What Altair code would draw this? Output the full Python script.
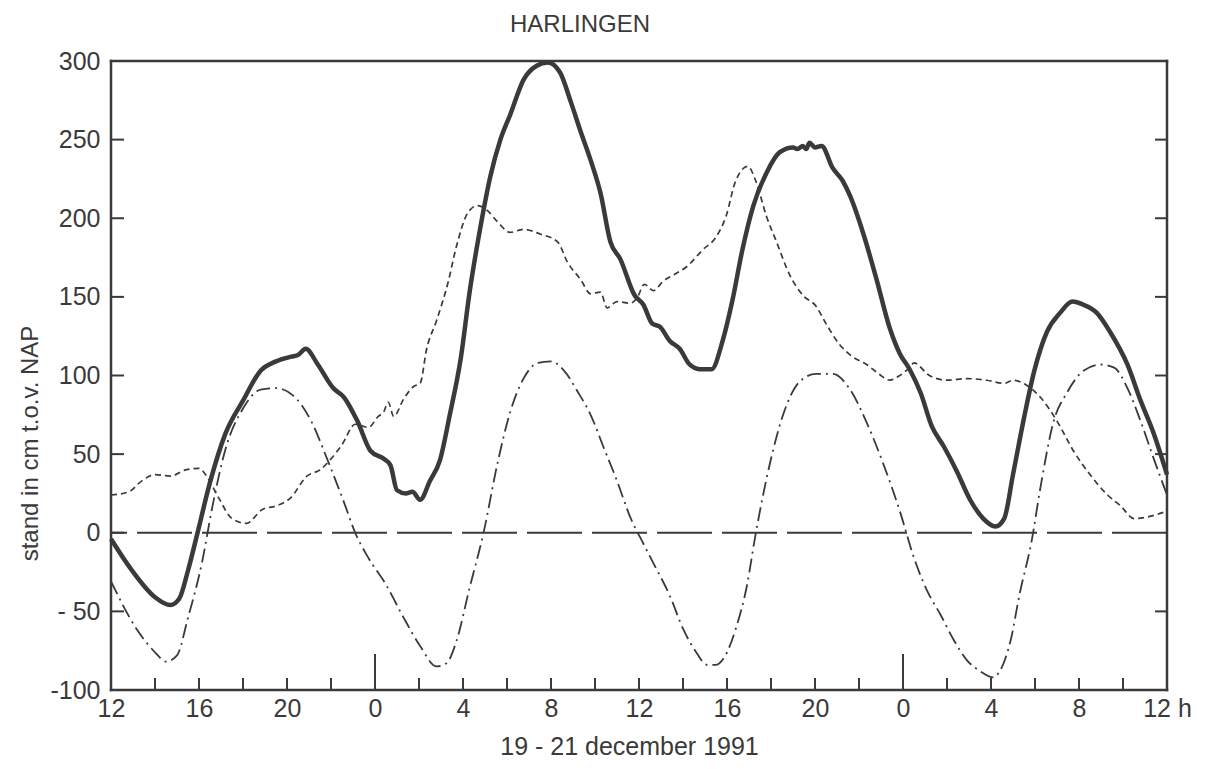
import altair as alt
import pandas as pd

# Time axis: hours since 12:00 on 19 December 1991 (0 .. 48)
# Observed water level (cm relative to NAP)
obs_t = [0, 0.9, 2, 2.7, 3.1, 3.5, 3.9, 4.5, 5.2, 6, 6.8, 7.5, 8.2, 8.5, 8.85, 9.4,
         10.1, 10.6, 11.2, 11.8, 12.4, 12.7, 13.0, 13.4, 13.7, 14.05, 14.5, 14.95,
         15.4, 15.9, 16.3, 16.8, 17.25, 17.7, 18.15, 18.75, 19.35, 19.85, 20.4, 20.9,
         21.35, 21.8, 22.25, 22.7, 23.15, 23.8, 24.2, 24.6, 24.95, 25.4, 25.85, 26.3,
         26.75, 27.3, 27.8, 28.25, 28.7, 29.2, 29.8, 30.4, 31.0, 31.2, 31.45, 31.6,
         31.75, 32.0, 32.3, 32.8, 33.25, 33.6, 34.2, 34.8, 35.4, 35.85, 36.3, 36.8,
         37.3, 37.85, 38.45, 39.05, 39.65, 40.2, 40.6, 41.0, 41.5, 41.95, 42.55,
         43.15, 43.7, 44.2, 44.8, 45.4, 46.2, 46.8, 47.4, 48]
obs_v = [-4, -23, -41, -46, -42, -24, -2, 32, 63, 84, 103, 109, 112, 113, 117, 107,
         92, 86, 71, 52, 47, 43, 27, 25, 26, 21, 33, 46,
         75, 111, 153, 195, 227, 250, 266, 288, 297, 299, 293, 274,
         255, 237, 216, 185, 174, 151, 145, 133, 131, 122, 117, 107,
         104, 104, 122, 148, 180, 208, 229, 242, 245, 244, 246, 244,
         248, 245, 246, 232, 224, 214, 190, 161, 130, 114, 104, 89,
         68, 55, 39, 21, 9, 4, 9, 37, 73, 102, 128,
         140, 147, 145, 140, 128, 107, 84, 63, 37]

# Astronomical tide
ast_t = [0, 1.2, 2, 2.5, 3, 3.5, 4.15, 4.6, 5.2, 6, 6.8, 7.5, 8.3, 9.1, 9.85, 10.6,
         11.1, 11.7, 12.5, 13.3, 14.05, 14.8, 15.25, 15.7, 16.3, 16.95, 17.55, 18.15,
         18.75, 19.4, 20, 20.6, 21.2, 21.8, 22.4, 23, 23.6, 24.2, 24.64, 25.4, 26,
         26.6, 27.1, 27.5, 28, 28.4, 28.9, 29.3, 29.95, 30.55, 31.3, 32.05, 32.8,
         33.6, 34.35, 35.1, 35.85, 36.5, 37.1, 37.7, 38.3, 38.9, 39.5, 40.1, 40.4,
         40.9, 41.3, 41.85, 42.25, 42.85, 43.45, 44.2, 45, 45.6, 46.2, 46.8, 47.4, 48]
ast_v = [-31, -62, -76, -82, -78, -54, -18, 16, 53, 79, 91, 92, 87, 71, 46, 19,
         0, -16, -33, -54, -72, -85, -83, -69, -35, 1, 43, 77,
         98, 108, 109, 103, 90, 75, 54, 33, 10, -7, -19, -40, -61,
         -76, -84, -84, -76, -61, -34, -1, 44, 75, 96, 101, 101,
         91, 70, 44, 14, -16, -37, -52, -68, -81, -88, -92, -88,
         -68, -39, -5, 29, 71, 89, 103, 107, 105, 92, 71, 47, 24]

# Surge (observed minus astronomical)
srg_t = [0, 0.8, 1.4, 2, 2.7, 3.4, 4, 4.3, 4.9, 5.5, 6.15, 6.9, 7.5, 8.15, 8.9, 9.5,
         10, 10.5, 11.1, 11.7, 12.15, 12.4, 12.6, 12.85, 13.3, 13.75, 14.05, 14.35,
         14.8, 15.3, 15.7, 16.2, 16.65, 17.1, 17.55, 18.15, 18.75, 19.5, 20.3, 20.75,
         21.35, 21.8, 22.25, 22.55, 23, 23.6, 23.9, 24.25, 24.65, 25.1, 25.7, 26.15,
         26.9, 27.5, 27.95, 28.4, 28.95, 29.3, 29.8, 30.25, 30.85, 31.45, 32.05, 32.5,
         33.1, 33.7, 34.35, 34.9, 35.4, 35.85, 36.3, 36.5, 37.2, 38, 38.9, 39.8, 40.6,
         41.0, 41.6, 42.25, 43, 43.75, 44.5, 45.3, 45.9, 46.5, 47.1, 47.85]
srg_v = [24, 26, 33, 37, 36, 40, 41, 37, 22, 9, 6, 15, 17, 22, 36, 40,
         47, 56, 69, 67, 74, 77, 83, 74, 85, 93, 95, 117,
         135, 158, 182, 203, 208, 205, 198, 191, 193, 190, 185, 172,
         161, 152, 153, 143, 147, 146, 149, 158, 154, 160, 165, 169,
         180, 188, 201, 224, 233, 224, 201, 185, 164, 151, 144, 133,
         120, 112, 107, 101, 97, 100, 105, 108, 100, 97, 98, 97, 95,
         97, 94, 86, 71, 52, 37, 24, 17, 9, 10, 13]

x_label_vals = list(range(0, 49, 4))
y_label_vals = list(range(-100, 301, 50))
minor_ticks = [h for h in range(2, 48, 2) if h not in (12, 36)]
major_ticks = [12, 36]
y_ticks = list(range(-50, 251, 50))

W, H = 1056, 629
INK = "#3a3a3a"
FONT = "Liberation Sans"

x_scale = alt.Scale(domain=[0, 48], nice=False, zero=False)
y_scale = alt.Scale(domain=[-100, 300], nice=False, zero=False)

x_axis = alt.Axis(
    values=x_label_vals,
    labelExpr="datum.value == 48 ? '12 h' : '' + ((12 + datum.value) % 24)",
    domain=False, ticks=False, grid=False,
    labelFont=FONT, labelFontSize=25, labelColor=INK, labelPadding=6,
    labelFlush=False,
    title="19 - 21 december 1991", titleFont=FONT, titleFontSize=25,
    titleFontWeight="normal", titleColor=INK,
    titleX=518, titleY=56, titleBaseline="middle", titleAlign="center",
)
y_axis = alt.Axis(
    values=y_label_vals,
    labelExpr="datum.value == -50 ? '- 50' : '' + datum.value",
    domain=False, ticks=False, grid=False,
    labelFont=FONT, labelFontSize=25, labelColor=INK, labelPadding=11,
    labelFlush=False,
    title="stand in cm t.o.v. NAP", titleFont=FONT, titleFontSize=24,
    titleFontWeight="normal", titleColor=INK,
    titleX=-81, titleY=382, titleBaseline="middle", titleAlign="center",
    titleAngle=270,
)

obs_df = pd.DataFrame({"t": obs_t, "v": obs_v})
ast_df = pd.DataFrame({"t": ast_t, "v": ast_v})
srg_df = pd.DataFrame({"t": srg_t, "v": srg_v})

obs_line = alt.Chart(obs_df).mark_line(
    color=INK, strokeWidth=4.5, interpolate="monotone", strokeJoin="round"
).encode(x=alt.X("t:Q", scale=x_scale, axis=x_axis),
         y=alt.Y("v:Q", scale=y_scale, axis=y_axis))

ast_line = alt.Chart(ast_df).mark_line(
    color=INK, strokeWidth=1.8, strokeDash=[14, 5, 2, 5], interpolate="monotone"
).encode(x=alt.X("t:Q", scale=x_scale), y=alt.Y("v:Q", scale=y_scale))

srg_line = alt.Chart(srg_df).mark_line(
    color=INK, strokeWidth=1.7, strokeDash=[6, 4], interpolate="monotone"
).encode(x=alt.X("t:Q", scale=x_scale), y=alt.Y("v:Q", scale=y_scale))

zero_line = alt.Chart(pd.DataFrame({"v": [0]})).mark_rule(
    color=INK, strokeWidth=1.8, strokeDash=[55, 10]
).encode(y=alt.Y("v:Q", scale=y_scale))

# frame around the plot area, one rule per side
one = pd.DataFrame({"k": [0]})
frame_style = dict(color=INK, strokeWidth=2.5, strokeCap="square")
frame_top = alt.Chart(one).mark_rule(**frame_style).encode(
    x=alt.value(0), x2=alt.value(W), y=alt.value(0))
frame_bottom = alt.Chart(one).mark_rule(**frame_style).encode(
    x=alt.value(0), x2=alt.value(W), y=alt.value(H))
frame_left = alt.Chart(one).mark_rule(**frame_style).encode(
    x=alt.value(0), y=alt.value(0), y2=alt.value(H))
frame_right = alt.Chart(one).mark_rule(**frame_style).encode(
    x=alt.value(W), y=alt.value(0), y2=alt.value(H))

# inward tick marks along the frame
minor_x = alt.Chart(pd.DataFrame({"t": minor_ticks})).mark_rule(
    color=INK, strokeWidth=2
).encode(x=alt.X("t:Q", scale=x_scale), y=alt.value(H), y2=alt.value(H - 12))

major_x = alt.Chart(pd.DataFrame({"t": major_ticks})).mark_rule(
    color=INK, strokeWidth=2
).encode(x=alt.X("t:Q", scale=x_scale), y=alt.value(H), y2=alt.value(H - 36))

left_y = alt.Chart(pd.DataFrame({"v": y_ticks})).mark_rule(
    color=INK, strokeWidth=2
).encode(y=alt.Y("v:Q", scale=y_scale), x=alt.value(0), x2=alt.value(13))

right_y = alt.Chart(pd.DataFrame({"v": [v for v in y_ticks if v != 0]})).mark_rule(
    color=INK, strokeWidth=2
).encode(y=alt.Y("v:Q", scale=y_scale), x=alt.value(W - 12), x2=alt.value(W))

# station name above the plot
station = alt.Chart(pd.DataFrame({"name": ["HARLINGEN"]})).mark_text(
    font=FONT, fontSize=24, color=INK, align="center", baseline="middle"
).encode(text="name:N", x=alt.value(469), y=alt.value(-36))

chart = alt.layer(
    zero_line, minor_x, major_x, left_y, right_y, srg_line, ast_line, obs_line,
    frame_top, frame_bottom, frame_left, frame_right, station
).properties(
    width=W, height=H,
    autosize=alt.AutoSizeParams(type="none"),
    padding={"left": 111, "top": 61, "right": 39, "bottom": 79},
).configure_view(
    strokeWidth=0
).configure(background="white")

chart.save("out.html", embed_options={"renderer": "svg", "actions": False})
